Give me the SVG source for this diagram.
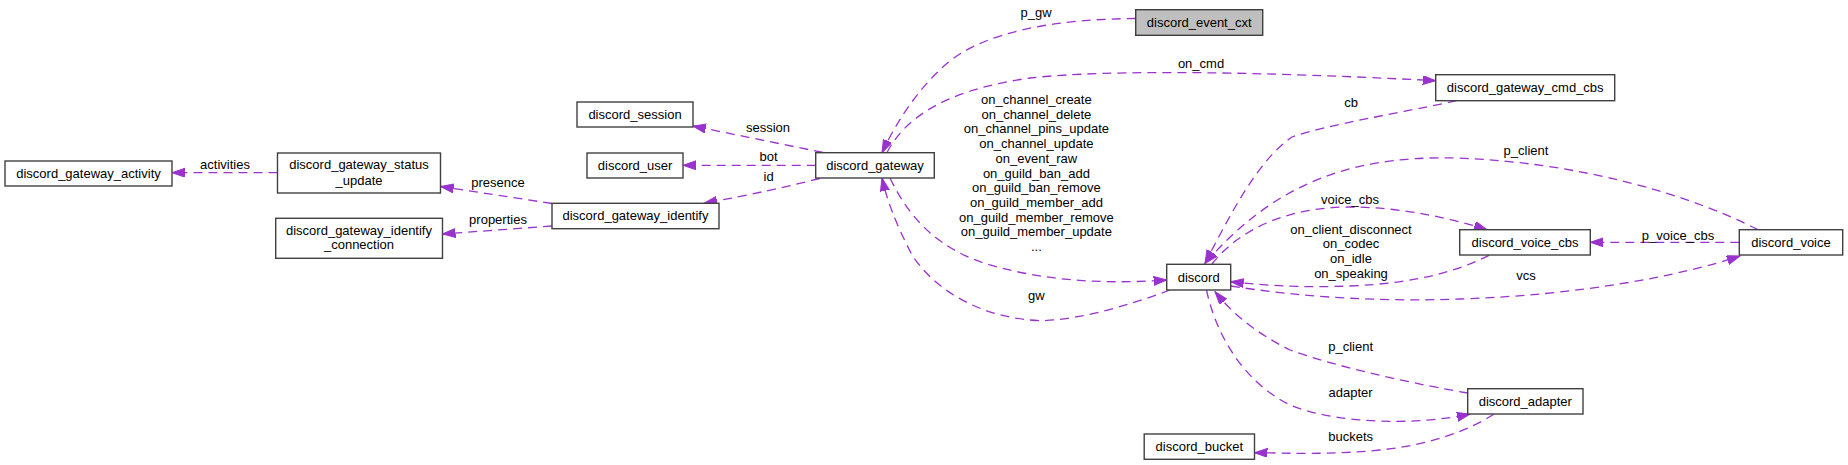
<svg xmlns="http://www.w3.org/2000/svg" width="1848" height="465" viewBox="0 0 1848 465">
<style>
.n rect{fill:#fff;stroke:#404040;stroke-width:1.4}
.n text,.l{font-family:"Liberation Sans",Arial,sans-serif;font-size:13px;fill:#000;text-anchor:middle}
.e path{fill:none;stroke:#9a32cd;stroke-width:1.3;stroke-dasharray:9,6;marker-end:url(#ah)}
</style>
<defs>
<marker id="ah" markerUnits="userSpaceOnUse" markerWidth="14" markerHeight="10" refX="13" refY="4.5" orient="auto">
<path d="M0,0 L13,4.5 L0,9 z" fill="#9a32cd" stroke="#9a32cd" stroke-width="1"/>
</marker>
</defs>
<rect width="1848" height="465" fill="#fff"/>
<g id="connectors" class="e">
<path d="M277.5,172.7 L172,172.7"/>
<path d="M552,203.5 L440.7,186.5"/>
<path d="M552,226 L442.5,234"/>
<path d="M822.9,152.5 L692.9,126"/>
<path d="M815.7,165.3 L683,165.3"/>
<path d="M819.6,178.5 C790,186 750,195 704,203.3"/>
<path d="M1135.7,18.5 C1060,19 985,30 945,65 C915,92 895,125 882,152.7"/>
<path d="M887,152.5 C905,118 945,90 1030,78 C1110,69 1270,72 1435.7,80.7"/>
<path d="M1456.5,100.7 C1400,113 1330,124 1292,137 C1258,160 1230,215 1205,263.3"/>
<path d="M1758,229.7 C1690,195 1580,162 1455,158 C1335,155 1265,195 1205,263.3"/>
<path d="M1212,264 C1240,228 1290,207 1350,207 C1400,207 1450,218 1487,229.7"/>
<path d="M1489,255.3 C1460,270 1420,283 1350,286 C1300,288 1260,285 1230.7,281.7"/>
<path d="M1231,286 C1300,297 1380,302 1460,299 C1580,295 1680,276 1740,256"/>
<path d="M1739.3,242.3 L1590.3,242.3"/>
<path d="M1467.7,393 C1420,385 1340,368 1290,350 C1250,330 1230,310 1215,291.7"/>
<path d="M1206.5,290 C1215,330 1240,380 1290,405 C1340,425 1420,425 1470,414"/>
<path d="M1494,414 C1470,430 1430,445 1380,450 C1330,455 1290,453 1254.5,452.7"/>
<path d="M890,178 C910,220 940,250 990,265 C1050,282 1110,284 1166.7,280"/>
<path d="M1170,290 C1130,305 1080,320 1040,320.7 C980,318 935,290 912,255 C895,222 887,200 882,178"/>
</g>
<g id="labels">
<text class="l" x="225" y="169">activities</text>
<text class="l" x="498" y="187">presence</text>
<text class="l" x="498" y="224">properties</text>
<text class="l" x="768" y="132">session</text>
<text class="l" x="768.6" y="161">bot</text>
<text class="l" x="768.6" y="181">id</text>
<text class="l" x="1036" y="17">p_gw</text>
<text class="l" x="1201" y="68">on_cmd</text>
<text class="l" x="1036.4" y="104">on_channel_create</text>
<text class="l" x="1036.4" y="118.7">on_channel_delete</text>
<text class="l" x="1036.4" y="133.4">on_channel_pins_update</text>
<text class="l" x="1036.4" y="148.1">on_channel_update</text>
<text class="l" x="1036.4" y="162.8">on_event_raw</text>
<text class="l" x="1036.4" y="177.5">on_guild_ban_add</text>
<text class="l" x="1036.4" y="192.2">on_guild_ban_remove</text>
<text class="l" x="1036.4" y="206.9">on_guild_member_add</text>
<text class="l" x="1036.4" y="221.6">on_guild_member_remove</text>
<text class="l" x="1036.4" y="236.3">on_guild_member_update</text>
<text class="l" x="1036.4" y="251">...</text>
<text class="l" x="1036.4" y="299.5">gw</text>
<text class="l" x="1351" y="107">cb</text>
<text class="l" x="1526" y="155">p_client</text>
<text class="l" x="1350" y="203.5">voice_cbs</text>
<text class="l" x="1351" y="233.5">on_client_disconnect</text>
<text class="l" x="1351" y="248.2">on_codec</text>
<text class="l" x="1351" y="262.9">on_idle</text>
<text class="l" x="1351" y="277.6">on_speaking</text>
<text class="l" x="1678" y="239.5">p_voice_cbs</text>
<text class="l" x="1526" y="279.5">vcs</text>
<text class="l" x="1350.6" y="351">p_client</text>
<text class="l" x="1350.6" y="396.5">adapter</text>
<text class="l" x="1350.6" y="441">buckets</text>
</g>
<g id="discord_gateway_activity" class="n"><rect x="5" y="161" width="167" height="25"/><text x="88.5" y="178">discord_gateway_activity</text></g>
<g id="discord_gateway_status_update" class="n"><rect x="277.5" y="153" width="163" height="40"/><text x="359" y="169">discord_gateway_status</text><text x="359" y="184.5">_update</text></g>
<g id="discord_gateway_identify_connection" class="n"><rect x="275.7" y="218.3" width="166.8" height="40"/><text x="359" y="234.8">discord_gateway_identify</text><text x="359" y="249.3">_connection</text></g>
<g id="discord_session" class="n"><rect x="577" y="102" width="116" height="25"/><text x="635" y="118.5">discord_session</text></g>
<g id="discord_user" class="n"><rect x="587" y="153" width="96" height="25"/><text x="635" y="170">discord_user</text></g>
<g id="discord_gateway_identify" class="n"><rect x="552" y="203.3" width="167" height="25.4"/><text x="635.5" y="219.5">discord_gateway_identify</text></g>
<g id="discord_gateway" class="n"><rect x="815.7" y="152.7" width="118.6" height="25.3"/><text x="875" y="170">discord_gateway</text></g>
<g id="discord_event_cxt" class="n"><rect x="1135.7" y="9.7" width="127" height="25.6" style="fill:#bfbfbf"/><text x="1199.2" y="27">discord_event_cxt</text></g>
<g id="discord_gateway_cmd_cbs" class="n"><rect x="1435.7" y="74.7" width="179" height="26"/><text x="1525.2" y="92">discord_gateway_cmd_cbs</text></g>
<g id="discord" class="n"><rect x="1166.7" y="264.3" width="64" height="25.7"/><text x="1198.7" y="281.5">discord</text></g>
<g id="discord_voice_cbs" class="n"><rect x="1459.7" y="229.7" width="130.6" height="25.3"/><text x="1525" y="246.8">discord_voice_cbs</text></g>
<g id="discord_voice" class="n"><rect x="1739.3" y="229.7" width="103.4" height="25.3"/><text x="1791" y="246.8">discord_voice</text></g>
<g id="discord_adapter" class="n"><rect x="1467.7" y="388.7" width="115.3" height="25.3"/><text x="1525.3" y="405.5">discord_adapter</text></g>
<g id="discord_bucket" class="n"><rect x="1144.2" y="434" width="110.3" height="25.3"/><text x="1199.3" y="451">discord_bucket</text></g>
</svg>
